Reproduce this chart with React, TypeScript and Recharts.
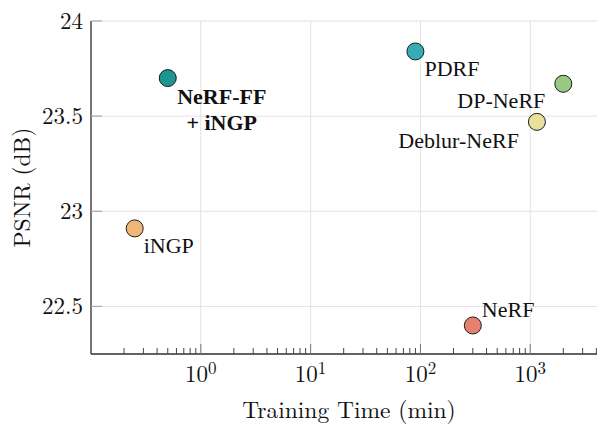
import { ScatterChart, Scatter, XAxis, YAxis, CartesianGrid, Label } from 'recharts'

const METHODS = ['NeRF-FF+iNGP', 'iNGP', 'PDRF', 'DP-NeRF', 'Deblur-NeRF', 'NeRF']
const TRAIN_TIME_MIN = [0.5, 0.25, 90, 2000, 1150, 300]
const PSNR_DB = [23.7, 22.91, 23.84, 23.67, 23.47, 22.4]

const X_MAJOR_TICKS = [1, 10, 100, 1000]
const X_MINOR_TICKS = [
  0.2, 0.3, 0.4, 0.5, 0.6, 0.7, 0.8, 0.9,
  2, 3, 4, 5, 6, 7, 8, 9,
  20, 30, 40, 50, 60, 70, 80, 90,
  200, 300, 400, 500, 600, 700, 800, 900,
  2000, 3000, 4000,
]
const Y_TICKS = [22.5, 23, 23.5, 24]

const X_DOMAIN = [0.1, 5000]
const Y_DOMAIN = [22.25, 24]

const COLORS: Record<string, string> = {
  'NeRF-FF+iNGP': '#1b9690',
  iNGP: '#f0b779',
  PDRF: '#36adb3',
  'DP-NeRF': '#97c982',
  'Deblur-NeRF': '#e8e19a',
  NeRF: '#e8806f',
}

// where each method's name sits relative to its marker
const LABELS: Record<string, { lines: string[]; anchor: 'start' | 'middle' | 'end'; dx: number; dy: number; bold?: boolean }> = {
  'NeRF-FF+iNGP': { lines: ['NeRF-FF', '+ iNGP'], anchor: 'middle', dx: 54, dy: 26, bold: true },
  iNGP: { lines: ['iNGP'], anchor: 'start', dx: 9, dy: 25 },
  PDRF: { lines: ['PDRF'], anchor: 'start', dx: 9, dy: 25 },
  'DP-NeRF': { lines: ['DP-NeRF'], anchor: 'end', dx: -18, dy: 24 },
  'Deblur-NeRF': { lines: ['Deblur-NeRF'], anchor: 'end', dx: -18, dy: 26 },
  NeRF: { lines: ['NeRF'], anchor: 'start', dx: 9, dy: -8 },
}

const LABEL_FONT = 'Liberation Serif, serif'
const AXIS_FONT = 'Latin Modern Roman, Liberation Serif, serif'
const AXIS_COLOR = '#333'
const GRID_COLOR = '#e2e2e2'

const points = METHODS.map((name, i) => ({ name, time: TRAIN_TIME_MIN[i], psnr: PSNR_DB[i] }))
const xTicks = [...X_MINOR_TICKS, ...X_MAJOR_TICKS].sort((a, b) => a - b)

function TimeTick({ x, y, payload }: any) {
  const v = payload.value
  const exp = Math.round(Math.log10(v))
  const major = X_MAJOR_TICKS.includes(v)
  return (
    <g>
      <line x1={x} x2={x} y1={y} y2={y - (major ? 10 : 6)} stroke={major ? '#777' : '#444'} strokeWidth={1} />
      {major && (
        <text x={x} y={y + 28} textAnchor="middle" fontFamily={AXIS_FONT} fontSize={23} fill="#111">
          10<tspan dy={-8.5} fontSize={17}>{exp}</tspan>
        </text>
      )}
    </g>
  )
}

function PsnrTick({ x, y, payload }: any) {
  return (
    <g>
      <line x1={x + 8} x2={x + 19} y1={y} y2={y} stroke="#aaa" strokeWidth={1.2} />
      <text x={x} y={y + 8} textAnchor="end" fontFamily={AXIS_FONT} fontSize={23} fill="#111">
        {payload.value}
      </text>
    </g>
  )
}

function RightTick({ x, y }: any) {
  return <line x1={x - 10} x2={x} y1={y} y2={y} stroke="#aaa" strokeWidth={1.2} />
}

function Marker(props: any) {
  const { cx, cy, payload } = props
  const lab = LABELS[payload.name]
  return (
    <g>
      <circle cx={cx} cy={cy} r={8.5} fill={COLORS[payload.name]} stroke="#1a1a1a" strokeWidth={1} />
      <text
        x={cx + lab.dx}
        y={cy + lab.dy}
        textAnchor={lab.anchor}
        fontFamily={LABEL_FONT}
        fontSize={22}
        fontWeight={lab.bold ? 'bold' : 'normal'}
        fill="#111"
      >
        {lab.lines.map((t, i) => (
          <tspan key={t} x={cx + lab.dx} dy={i === 0 ? 0 : 26}>{t}</tspan>
        ))}
      </text>
    </g>
  )
}

export default function App() {
  return (
    <div style={{ width: 597, height: 425, overflow: 'hidden', background: '#fff' }}>
      <style>{'body{margin:0}'}</style>
      <ScatterChart width={607} height={425} margin={{ top: 21, right: 0, bottom: 0, left: 0 }}>
        <CartesianGrid xAxisId="grid" stroke={GRID_COLOR} strokeWidth={1} />
        <XAxis
          xAxisId="grid"
          dataKey="time"
          type="number"
          scale="log"
          domain={X_DOMAIN}
          ticks={X_MAJOR_TICKS}
          allowDataOverflow
          hide
        />
        <XAxis
          dataKey="time"
          type="number"
          scale="log"
          domain={X_DOMAIN}
          ticks={xTicks}
          interval={0}
          allowDataOverflow
          height={71}
          tickSize={0}
          tickMargin={0}
          tickLine={false}
          tick={<TimeTick />}
          axisLine={{ stroke: AXIS_COLOR, strokeWidth: 1.3 }}
        >
          <Label
            content={({ viewBox }: any) => (
              <text
                x={viewBox.x + viewBox.width / 2}
                y={viewBox.y + 64}
                textAnchor="middle"
                fontFamily={AXIS_FONT}
                fontSize={23.5}
                fill="#111"
              >
                Training Time (min)
              </text>
            )}
          />
        </XAxis>
        <YAxis
          dataKey="psnr"
          type="number"
          domain={Y_DOMAIN}
          ticks={Y_TICKS}
          interval={0}
          allowDataOverflow
          width={91}
          tickSize={0}
          tickMargin={8}
          tickLine={false}
          tick={<PsnrTick />}
          axisLine={{ stroke: AXIS_COLOR, strokeWidth: 1.3 }}
        >
          <Label
            content={({ viewBox }: any) => {
              const cx = viewBox.x + 29.5
              const cy = viewBox.y + viewBox.height / 2
              return (
                <text
                  x={cx}
                  y={cy}
                  transform={`rotate(-90 ${cx} ${cy})`}
                  textAnchor="middle"
                  fontFamily={AXIS_FONT}
                  fontSize={23.5}
                  fill="#111"
                >
                  PSNR (dB)
                </text>
              )
            }}
          />
        </YAxis>
        <YAxis
          yAxisId="right"
          orientation="right"
          type="number"
          domain={Y_DOMAIN}
          ticks={Y_TICKS}
          interval={0}
          width={0}
          tickSize={0}
          tickMargin={0}
          tickLine={false}
          axisLine={false}
          tick={<RightTick />}
        />
        <Scatter data={points} dataKey="psnr" shape={<Marker />} isAnimationActive={false} />
      </ScatterChart>
    </div>
  )
}
